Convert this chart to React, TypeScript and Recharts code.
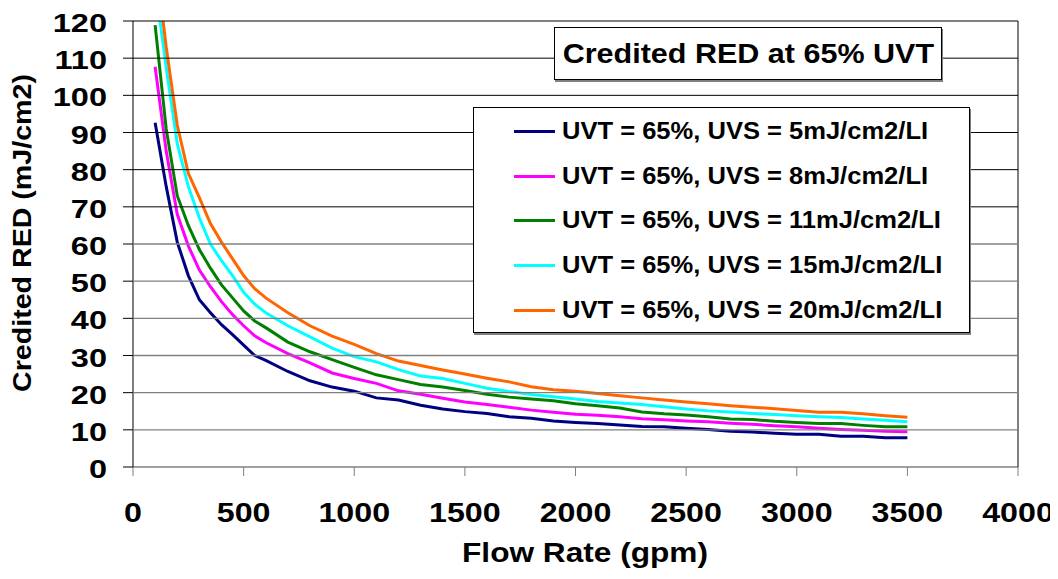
import { LineChart, Line, XAxis, YAxis, Legend } from "recharts";

const FONT = '"Liberation Sans", Arial, Helvetica, sans-serif';

// flow rate (gpm)
const FLOW = [
  100, 150, 200, 250, 300, 350, 400, 450, 500, 550, 600, 700, 800, 900, 1000, 1100, 1200, 1300, 1400, 1500,
  1600, 1700, 1800, 1900, 2000, 2100, 2200, 2300, 2400, 2500, 2600, 2700, 2800, 2900, 3000, 3100, 3200, 3300, 3400, 3500,
];

// credited RED (mJ/cm2)
const UVS5 = [
  92.6, 75.5, 60.5, 51.5, 45, 41.5, 38.3, 35.6, 32.8, 30, 28.7, 25.7, 23.2, 21.5, 20.4, 18.6, 18, 16.6, 15.6, 14.9,
  14.4, 13.5, 13.1, 12.4, 12, 11.7, 11.3, 10.9, 10.8, 10.4, 10.1, 9.6, 9.4, 9.1, 8.8, 8.8, 8.3, 8.3, 7.9, 7.9,
];
const UVS8 = [
  107.7, 85, 68, 59.5, 53, 48.5, 44.5, 41, 38, 35.3, 33.5, 30.5, 28, 25.3, 23.8, 22.5, 20.5, 19.6, 18.5, 17.5,
  16.8, 16.1, 15.3, 14.7, 14.2, 13.9, 13.5, 13, 12.7, 12.4, 12.2, 11.8, 11.5, 11.1, 10.8, 10.4, 10.1, 9.9, 9.6, 9.5,
];
const UVS11 = [
  118.9, 91, 73, 65, 58.5, 53.5, 49, 45.5, 42, 39.3, 37.5, 33.6, 31, 28.9, 26.8, 24.8, 23.5, 22.2, 21.5, 20.6,
  19.6, 18.8, 18.3, 17.8, 17, 16.5, 15.9, 14.8, 14.3, 14, 13.5, 12.9, 12.8, 12.3, 12, 11.7, 11.7, 11.2, 10.8, 10.8,
];
const UVS15 = [
  130, 107.5, 87, 75.5, 67, 60, 55.5, 51.5, 47, 43.8, 41.5, 38, 35, 32, 29.7, 28.3, 26.2, 24.5, 23.8, 22.5,
  21.2, 20.3, 19.5, 18.9, 18.3, 17.6, 17.2, 16.8, 16.2, 15.6, 15.1, 14.8, 14.4, 14.1, 13.8, 13.5, 13.3, 12.9, 12.6, 12.2,
];
const UVS20 = [
  138, 113, 92, 79, 72.5, 65.5, 60.5, 56, 51.5, 48, 45.5, 41.5, 38, 35.2, 33, 30.5, 28.5, 27.3, 26.1, 25,
  23.9, 22.9, 21.6, 20.8, 20.4, 19.8, 19.2, 18.6, 18, 17.5, 17, 16.5, 16.1, 15.7, 15.2, 14.7, 14.7, 14.3, 13.8, 13.4,
];

const X_TICKS = [0, 500, 1000, 1500, 2000, 2500, 3000, 3500, 4000];
const Y_TICKS = [0, 10, 20, 30, 40, 50, 60, 70, 80, 90, 100, 110, 120];

const SERIES = [
  { key: "s5", name: "UVT = 65%, UVS = 5mJ/cm2/LI", color: "#000080", values: UVS5 },
  { key: "s8", name: "UVT = 65%, UVS = 8mJ/cm2/LI", color: "#FF00FF", values: UVS8 },
  { key: "s11", name: "UVT = 65%, UVS = 11mJ/cm2/LI", color: "#008000", values: UVS11 },
  { key: "s15", name: "UVT = 65%, UVS = 15mJ/cm2/LI", color: "#00FFFF", values: UVS15 },
  { key: "s20", name: "UVT = 65%, UVS = 20mJ/cm2/LI", color: "#FF6600", values: UVS20 },
];

const data = FLOW.map((flow, i) => {
  const row: Record<string, number> = { flow };
  SERIES.forEach((s) => {
    row[s.key] = s.values[i];
  });
  return row;
});

// plot box size (layout), used to run gridlines across from each tick
const PLOT_W = 885;
const PLOT_H = 446;
const Y_TICK_SIZE = 10;
const Y_TICK_MARGIN = 16;
const X_TICK_SIZE = 9;

// y tick label plus its gridline: black from 70 up, grey below
const YTick = ({ x, y, payload }: any) => {
  const v = payload.value;
  const x0 = Y_TICK_SIZE + Y_TICK_MARGIN;
  return (
    <g transform={`translate(${x},${y})`}>
      {v > 0 && (
        <line
          x1={x0}
          x2={x0 + PLOT_W}
          y1={0}
          y2={0}
          stroke={v >= 70 ? "#000" : "#808080"}
          strokeWidth={v >= 70 ? 1 : 1.4}
        />
      )}
      <text transform="scale(1.3,1)" textAnchor="end" dy={11} fontSize={25} fontWeight="bold" fill="#000" fontFamily={FONT}>
        {v}
      </text>
    </g>
  );
};

// x tick label; the last tick also closes the plot box on the right
const XTick = ({ x, y, payload }: any) => (
  <g transform={`translate(${x},${y})`}>
    {payload.value === X_TICKS[X_TICKS.length - 1] && (
      <line x1={0} x2={0} y1={-X_TICK_SIZE} y2={-X_TICK_SIZE - PLOT_H} stroke="#000" strokeWidth={1} />
    )}
    <text transform="scale(1.15,1)" textAnchor="middle" dy={45.7} fontSize={28} fontWeight="bold" fill="#000" fontFamily={FONT}>
      {payload.value}
    </text>
  </g>
);

const XTitle = () => (
  <g transform="translate(577,554)">
    <text transform="scale(1.13,1)" textAnchor="middle" fontSize={28} fontWeight="bold" fill="#000" fontFamily={FONT}>
      Flow Rate (gpm)
    </text>
  </g>
);

const YTitle = () => (
  <g transform="translate(23.4,225) rotate(-90)">
    <text transform="scale(1.1,1)" textAnchor="middle" fontSize={26} fontWeight="bold" fill="#000" fontFamily={FONT}>
      Credited RED (mJ/cm2)
    </text>
  </g>
);

const renderLegend = () => (
  <div
    style={{
      width: 497,
      height: 226,
      boxSizing: "border-box",
      border: "1px solid #000",
      boxShadow: "1px 2px 0 #808080",
      background: "#fff",
      paddingTop: 1,
    }}
  >
    {SERIES.map((s) => (
      <div key={s.key} style={{ height: 44.75, display: "flex", alignItems: "center" }}>
        <div style={{ marginLeft: 40, width: 41, height: 3, background: s.color }} />
        <span
          style={{
            marginLeft: 7,
            fontFamily: FONT,
            fontWeight: "bold",
            fontSize: 23,
            color: "#000",
            whiteSpace: "nowrap",
            display: "inline-block",
            transform: "scaleX(1.11)",
            transformOrigin: "left center",
          }}
        >
          {s.name}
        </span>
      </div>
    ))}
  </div>
);

export default function App() {
  return (
    <div style={{ position: "relative", width: 1050, height: 563, background: "#fff" }}>
      <LineChart width={1050} height={563} data={data} margin={{ top: 13, right: 40, bottom: 0, left: 0 }}>
        <XAxis
          dataKey="flow"
          type="number"
          domain={[0, 4000]}
          ticks={X_TICKS}
          interval={0}
          height={104}
          tickSize={X_TICK_SIZE}
          tickMargin={0}
          tick={<XTick />}
          axisLine={{ stroke: "#808080", strokeWidth: 1.3 }}
          tickLine={{ stroke: "#808080" }}
          label={<XTitle />}
        />
        <YAxis
          type="number"
          domain={[0, 120]}
          ticks={Y_TICKS}
          interval={0}
          allowDataOverflow
          width={125}
          tickSize={Y_TICK_SIZE}
          tickMargin={Y_TICK_MARGIN}
          tick={<YTick />}
          axisLine={{ stroke: "#000" }}
          tickLine={{ stroke: "#000" }}
          label={<YTitle />}
        />
        <Legend
          layout="vertical"
          align="center"
          verticalAlign="middle"
          wrapperStyle={{ left: 465, top: 99, width: 497, height: 226 }}
          content={renderLegend}
        />
        {SERIES.map((s) => (
          <Line
            key={s.key}
            type="linear"
            dataKey={s.key}
            name={s.name}
            stroke={s.color}
            strokeWidth={3}
            dot={false}
            activeDot={false}
            isAnimationActive={false}
          />
        ))}
      </LineChart>
      <div
        style={{
          position: "absolute",
          left: 546,
          top: 19,
          width: 388,
          height: 53,
          boxSizing: "border-box",
          border: "1px solid #000",
          boxShadow: "1px 2px 0 #808080",
          background: "#fff",
          display: "flex",
          alignItems: "center",
          justifyContent: "center",
        }}
      >
        <span
          style={{
            fontFamily: FONT,
            fontWeight: "bold",
            fontSize: 28,
            color: "#000",
            whiteSpace: "nowrap",
            display: "inline-block",
            transform: "scaleX(1.09)",
          }}
        >
          Credited RED at 65% UVT
        </span>
      </div>
    </div>
  );
}
